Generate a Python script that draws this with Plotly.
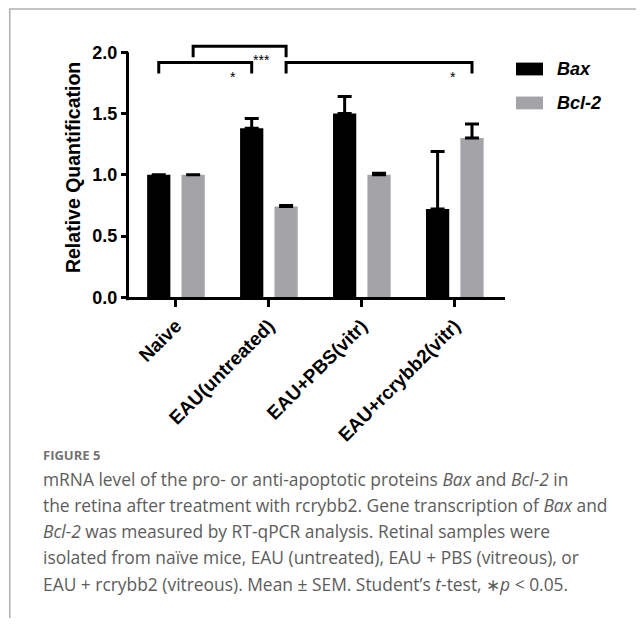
import plotly.graph_objects as go

# ---------------- data ----------------
categories = ["Naive", "EAU(untreated)", "EAU+PBS(vitr)", "EAU+rcrybb2(vitr)"]
bax_values = [1.00, 1.38, 1.50, 0.72]
bax_sem = [0.0, 0.08, 0.14, 0.47]
bcl2_values = [1.00, 0.74, 1.00, 1.30]
bcl2_sem = [0.0, 0.01, 0.012, 0.115]
y_tick_values = [0.0, 0.5, 1.0, 1.5, 2.0]
# significance brackets: (category a, series a, category b, series b, level, label)
sig_brackets = [
    (0, "Bax", 1, "Bax", 1.917, "*"),
    (0, "Bcl-2", 1, "Bcl-2", 2.05, "***"),
    (1, "Bcl-2", 3, "Bcl-2", 1.917, "*"),
]

# ---------------- style ----------------
# page body has an 8px margin: work in reference pixels and shift by it
OFF = 8
W, H = 644 - OFF, 628 - OFF
FONT = "Liberation Sans, Arial, sans-serif"
CAP_FONT = "Open Sans, Noto Sans, sans-serif"
BAX_COLOR = "#000000"
BCL_COLOR = "#a3a3a8"
BAR_W = 0.25
OFFS = {"Bax": -0.31, "Bcl-2": 0.06}


def px_x(px):
    return (px - OFF) / W


def px_y(py):
    return 1 - (py - OFF) / H


X_DOM = [px_x(129), px_x(505)]
Y_MAX = 2.12
Y_DOM = [px_y(302), px_y(302 - Y_MAX * 124.5)]


def center(i, s):
    return i + OFFS[s] + BAR_W / 2


def err_list(sem):
    return [v if v > 0 else None for v in sem]


fig = go.Figure()
fig.add_trace(go.Bar(
    x=list(range(len(categories))), y=bax_values, name="Bax",
    width=BAR_W, offset=OFFS["Bax"], marker=dict(color=BAX_COLOR, line=dict(width=0)),
    error_y=dict(type="data", array=err_list(bax_sem), arrayminus=[0] * 4, symmetric=False,
                 color="#000000", thickness=3, width=7),
    showlegend=False,
))
fig.add_trace(go.Bar(
    x=list(range(len(categories))), y=bcl2_values, name="Bcl-2",
    width=BAR_W, offset=OFFS["Bcl-2"], marker=dict(color=BCL_COLOR, line=dict(width=0)),
    error_y=dict(type="data", array=err_list(bcl2_sem), arrayminus=[0] * 4, symmetric=False,
                 color="#000000", thickness=3, width=7),
    showlegend=False,
))

shapes = []
annotations = []

# significance brackets
for a, sa, b, sb, lvl, lab in sig_brackets:
    xa, xb = center(a, sa), center(b, sb)
    drop = 0.09
    shapes.append(dict(
        type="path", xref="x", yref="y",
        path=f"M {xa},{lvl - drop} L {xa},{lvl} L {xb},{lvl} L {xb},{lvl - drop}",
        line=dict(color="black", width=3),
    ))
    annotations.append(dict(
        x=xb - 0.15, y=lvl - 0.115, xref="x", yref="y", text=lab, showarrow=False,
        xanchor="right", yanchor="middle", font=dict(family=FONT, size=14, color="black"),
    ))

# y axis line (stops at 2.0)
y_top_paper = Y_DOM[0] + 2.0 / Y_MAX * (Y_DOM[1] - Y_DOM[0])
shapes.append(dict(type="line", xref="paper", yref="paper",
                   x0=X_DOM[0] - 1.5 / W, x1=X_DOM[0] - 1.5 / W,
                   y0=Y_DOM[0] - 3 / H, y1=y_top_paper,
                   line=dict(color="black", width=3)))

# legend (custom)
for name, col, yc in [("Bax", BAX_COLOR, 70), ("Bcl-2", BCL_COLOR, 104.5)]:
    shapes.append(dict(type="rect", xref="paper", yref="paper",
                       x0=px_x(516), x1=px_x(543), y0=px_y(yc + 6.5), y1=px_y(yc - 6.5),
                       fillcolor=col, line=dict(width=0)))
    annotations.append(dict(x=px_x(555), y=px_y(yc), xref="paper", yref="paper",
                            text=f"<b><i>{name}</i></b>", showarrow=False,
                            xanchor="left", yanchor="middle",
                            font=dict(family=FONT, size=18, color="black")))

# figure frame (top and left rule)
shapes.append(dict(type="line", xref="paper", yref="paper", x0=px_x(9), x1=1,
                   y0=px_y(9), y1=px_y(9), line=dict(color="#b0b0b0", width=1.5)))
shapes.append(dict(type="line", xref="paper", yref="paper", x0=px_x(9.75), x1=px_x(9.75),
                   y0=0, y1=px_y(9), line=dict(color="#b0b0b0", width=1.5)))

# caption
annotations.append(dict(x=px_x(41), y=px_y(462), xref="paper", yref="paper",
                        text="<b>FIGURE 5</b>", showarrow=False, xanchor="left",
                        yanchor="middle", font=dict(family=CAP_FONT, size=13, color="#737373")))
caption_lines = [
    "mRNA level of the pro- or anti-apoptotic proteins <i>Bax</i> and <i>Bcl-2</i> in",
    "the retina after treatment with rcrybb2. Gene transcription of <i>Bax</i> and",
    "<i>Bcl-2</i> was measured by RT-qPCR analysis. Retinal samples were",
    "isolated from naïve mice, EAU (untreated), EAU + PBS (vitreous), or",
    "EAU + rcrybb2 (vitreous). Mean ± SEM. Student’s <i>t</i>-test, ∗<i>p</i> &lt; 0.05.",
]
for k, line in enumerate(caption_lines):
    annotations.append(dict(x=px_x(41), y=px_y(487 + 26.5 * k), xref="paper", yref="paper",
                            text=line, showarrow=False, xanchor="left", yanchor="middle",
                            font=dict(family=CAP_FONT, size=17.4, color="#5c5c5c")))

fig.update_layout(
    width=W, height=H,
    margin=dict(l=0, r=0, t=0, b=0),
    paper_bgcolor="white", plot_bgcolor="white",
    barmode="overlay",
    shapes=shapes, annotations=annotations,
    xaxis=dict(
        domain=X_DOM, range=[-0.505, 3.54],
        tickmode="array", tickvals=list(range(len(categories))),
        ticktext=[f"<b>{c}</b>" for c in categories],
        tickangle=-45, ticks="outside", ticklen=7, tickwidth=3, tickcolor="black",
        showline=True, linewidth=3, linecolor="black", showgrid=False, zeroline=False,
        tickfont=dict(family=FONT, size=19, color="black"),
    ),
    yaxis=dict(
        domain=Y_DOM, range=[0, Y_MAX],
        tickmode="array", tickvals=y_tick_values,
        ticktext=[f"<b>{v:.1f}</b>" for v in y_tick_values],
        ticks="outside", ticklen=7, tickwidth=3, tickcolor="black",
        showline=False, showgrid=False, zeroline=False,
        tickfont=dict(family=FONT, size=18, color="black"),
        title=dict(text="<b>Relative Quantification</b>", standoff=6,
                   font=dict(family=FONT, size=19.5, color="black")),
    ),
)

fig.write_html("out.html")
